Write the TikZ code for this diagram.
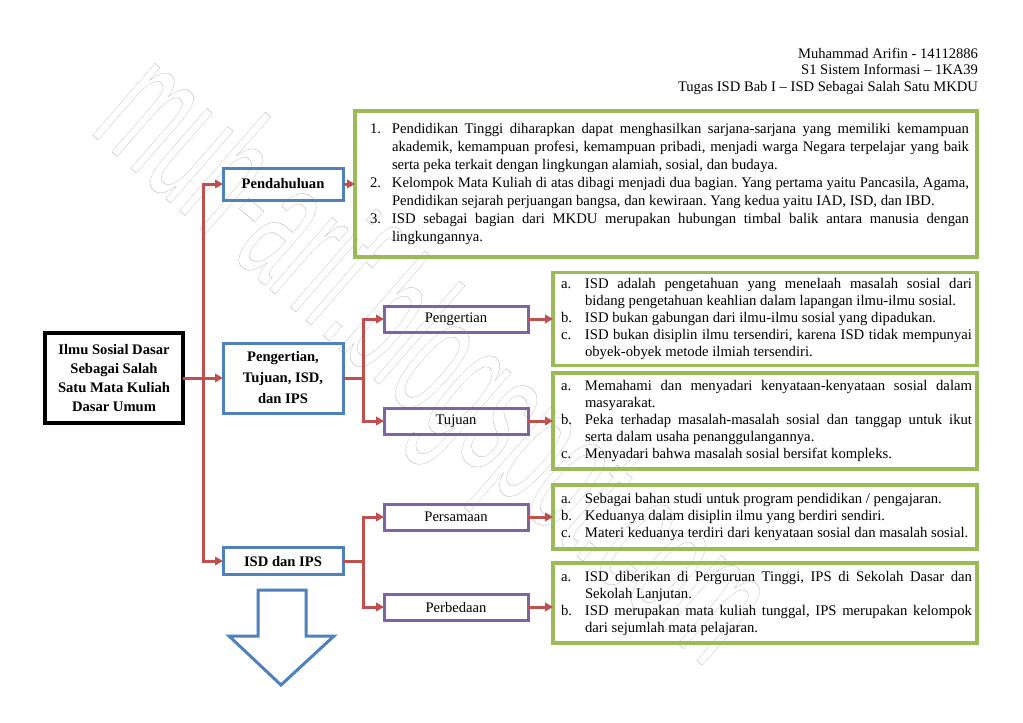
\documentclass[tikz,border=0pt]{standalone}
\usepackage{fontspec}
\setmainfont{Liberation Serif}
\newfontfamily\wmfont{Liberation Sans}
\usepackage{xcolor}
\usetikzlibrary{arrows.meta,positioning}
\definecolor{arrred}{HTML}{C0504D}
\definecolor{boxblue}{HTML}{4F81BD}
\definecolor{boxpurple}{HTML}{8064A2}
\definecolor{boxgreen}{HTML}{9BBB59}
\frenchspacing
\newlength{\kiri}\newlength{\gantung}\newlength{\lebar}
% numbered / continued lines, justified (j) or left (l)
\newcommand{\nj}[2]{\hbox to\hsize{\hskip\kiri\hbox to\gantung{#1\hfil}\makebox[\lebar][s]{#2}\hss}}
\newcommand{\nl}[2]{\hbox to\hsize{\hskip\kiri\hbox to\gantung{#1\hfil}#2\hss}}
\newcommand{\cj}[1]{\hbox to\hsize{\hskip\kiri\hskip\gantung\makebox[\lebar][s]{#1}\hss}}
\newcommand{\cl}[1]{\hbox to\hsize{\hskip\kiri\hskip\gantung #1\hss}}
\newcommand{\isi}[5]{\vbox{\hsize=#1\kiri=#2\gantung=#3\lebar=#4\relax #5}}
\newcommand{\garis}[1]{{\special{pdf:literal direct 1 Tr 0.5 w}#1\special{pdf:literal direct 0 Tr}}}

\begin{document}
\begin{tikzpicture}[x=1pt,y=-1pt,font=\fontsize{14.7}{17}\selectfont,outer sep=0pt,
  arr/.style={-{Triangle[length=8pt,width=8.5pt]},line width=3pt,draw=arrred},
  ln/.style={line width=3pt,draw=arrred},
  bbox/.style={draw=boxblue,line width=3pt,minimum width=120pt,inner sep=0pt,align=center,
               font=\bfseries\fontsize{14.6}{21}\selectfont},
  pbox/.style={draw=boxpurple,line width=3pt,minimum width=144pt,minimum height=26pt,inner sep=0pt,
               font=\fontsize{14.6}{17}\selectfont},
  gbox/.style={draw=boxgreen,line width=3.5pt,inner sep=0pt,minimum width=#1},gbox/.default=424pt]
  \useasboundingbox[fill=white] (0,0) rectangle (1023,723);
  % watermark
  \node[rotate=-41,text=black!25,font=\wmfont\fontsize{180}{180}\selectfont,inner sep=0pt] (wm) at (428,365)
    {\scalebox{0.46}[1]{\garis{muh-arif.blogspot.com}}};
  % header
  \node[anchor=north east,align=right,inner sep=0pt,font=\fontsize{14.6}{16.5}\selectfont] (hdr) at (978,48)
    {Muhammad Arifin - 14112886\\S1 Sistem Informasi -- 1KA39\\Tugas ISD Bab I -- ISD Sebagai Salah Satu MKDU};
  % main boxes
  \node[draw,line width=3.5pt,minimum width=138pt,minimum height=90pt,inner sep=0pt,align=center,
        font=\bfseries\fontsize{14.6}{19}\selectfont] (root) at (114,378)
    {Ilmu Sosial Dasar\\Sebagai Salah\\Satu Mata Kuliah\\Dasar Umum};
  \node[bbox,minimum height=32pt] (pend) at (283,184) {Pendahuluan};
  \node[bbox,minimum height=70pt] (peng) at (283,378) {Pengertian,\\Tujuan, ISD,\\dan IPS};
  \node[bbox,minimum height=27pt] (isd) at (283,561) {ISD dan IPS};
  \node[pbox] (s1) at (456,319) {Pengertian};
  \node[pbox] (s2) at (456,421) {Tujuan};
  \node[pbox] (s3) at (456,517) {Persamaan};
  \node[pbox] (s4) at (456,607) {Perbedaan};
  \coordinate (j1) at (203,378);
  \coordinate (j2) at (363,378);
  \coordinate (j3) at (363,561);
  % text boxes
  \node[gbox=622pt,minimum height=146pt,right=12pt of pend,font=\fontsize{14.7}{18}\selectfont] (g1) {\isi{622pt}{15pt}{22pt}{577pt}{%
    \nj{1.}{Pendidikan Tinggi diharapkan dapat menghasilkan sarjana-sarjana yang memiliki kemampuan}
    \cj{akademik, kemampuan profesi, kemampuan pribadi, menjadi warga Negara terpelajar yang baik}
    \cl{serta peka terkait dengan lingkungan alamiah, sosial, dan budaya.}
    \nj{2.}{Kelompok Mata Kuliah di atas dibagi menjadi dua bagian. Yang pertama yaitu Pancasila, Agama,}
    \cl{Pendidikan sejarah perjuangan bangsa, dan kewiraan. Yang kedua yaitu IAD, ISD, dan IBD.}
    \nj{3.}{ISD sebagai bagian dari MKDU merupakan hubungan timbal balik antara manusia dengan}
    \cl{lingkungannya.}}};
  \node[gbox,minimum height=93pt,right=25pt of s1] (g2) {\isi{424pt}{8pt}{24pt}{387pt}{%
    \nj{a.}{ISD adalah pengetahuan yang menelaah masalah sosial dari}
    \cl{bidang pengetahuan keahlian dalam lapangan ilmu-ilmu sosial.}
    \nl{b.}{ISD bukan gabungan dari ilmu-ilmu sosial yang dipadukan.}
    \nj{c.}{ISD bukan disiplin ilmu tersendiri, karena ISD tidak mempunyai}
    \cl{obyek-obyek metode ilmiah tersendiri.}}};
  \node[gbox,minimum height=96pt,right=25pt of s2] (g3) {\isi{424pt}{8pt}{24pt}{387pt}{%
    \nj{a.}{Memahami dan menyadari kenyataan-kenyataan sosial dalam}
    \cl{masyarakat.}
    \nj{b.}{Peka terhadap masalah-masalah sosial dan tanggap untuk ikut}
    \cl{serta dalam usaha penanggulangannya.}
    \nl{c.}{Menyadari bahwa masalah sosial bersifat kompleks.}}};
  \node[gbox,minimum height=64pt,right=25pt of s3] (g4) {\isi{424pt}{8pt}{24pt}{387pt}{%
    \nl{a.}{Sebagai bahan studi untuk program pendidikan / pengajaran.}
    \nl{b.}{Keduanya dalam disiplin ilmu yang berdiri sendiri.}
    \nl{c.}{Materi keduanya terdiri dari kenyataan sosial dan masalah sosial.}}};
  \node[gbox,minimum height=80pt,right=25pt of s4,yshift=4pt] (g5) {\isi{424pt}{8pt}{24pt}{387pt}{%
    \nj{a.}{ISD diberikan di Perguruan Tinggi, IPS di Sekolah Dasar dan}
    \cl{Sekolah Lanjutan.}
    \nj{b.}{ISD merupakan mata kuliah tunggal, IPS merupakan kelompok}
    \cl{dari sejumlah mata pelajaran.}}};
  % connectors
  \draw[arr] (root) -- (peng);
  \draw[ln] (peng) -- (j2);
  \draw[ln] (isd) -- (j3);
  \foreach \j/\b in {j1/pend,j1/isd,j2/s1,j2/s2,j3/s3,j3/s4}
    \draw[arr] (\j) |- (\b);
  \foreach \a/\b in {pend/g1,s1/g2,s2/g3,s3/g4}
    \draw[arr] (\a) -- (\b);
  \draw[arr] (s4) -- (s4 -| g5.west);
  % down arrow
  \draw[draw=boxblue,line width=3pt] (258,590) -- (306,590) -- (306,636) -- (334,636)
    -- (281,685) -- (229,636) -- (258,636) -- cycle;
\end{tikzpicture}
\end{document}
